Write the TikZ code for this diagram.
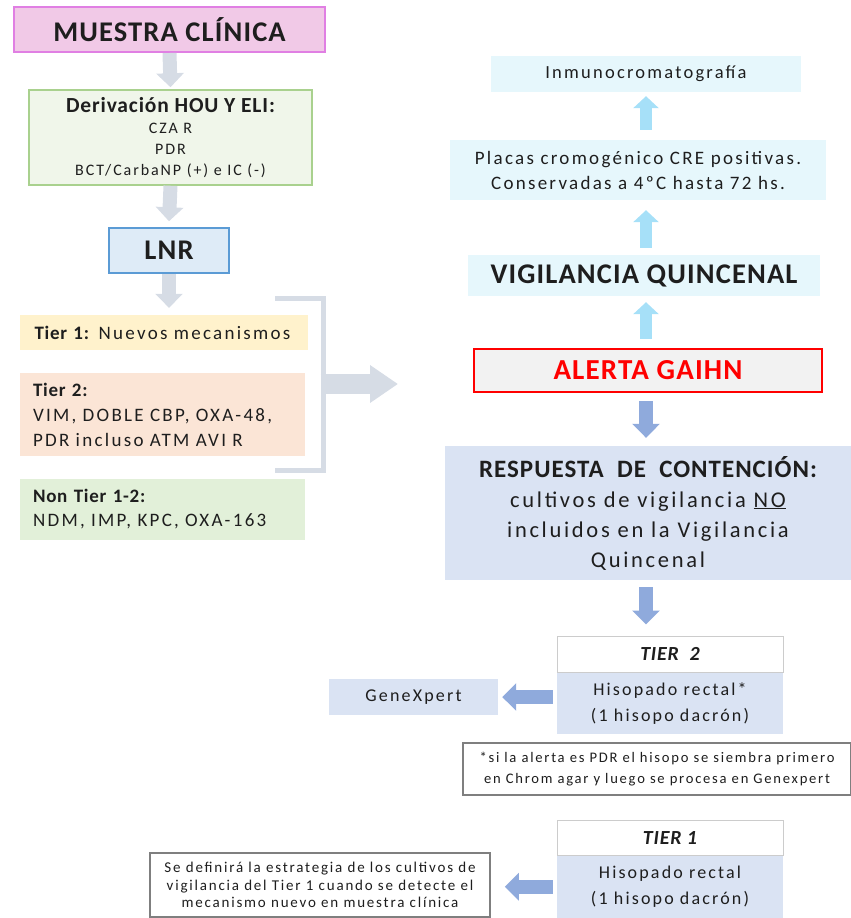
\documentclass[tikz,border=0pt]{standalone}
\usepackage{fontspec}
\setmainfont{Carlito}[LetterSpace=4]
\newfontfamily\spfont{Carlito}[LetterSpace=12]
\usetikzlibrary{arrows.meta}

\definecolor{pinkfill}{HTML}{F1C9E7}
\definecolor{pinkline}{HTML}{E07FE3}
\definecolor{greenfill}{HTML}{F0F6EA}
\definecolor{greenline}{HTML}{A9D18E}
\definecolor{lnrfill}{HTML}{DEEBF7}
\definecolor{lnrline}{HTML}{5B9BD5}
\definecolor{tieronefill}{HTML}{FFF2CC}
\definecolor{tiertwofill}{HTML}{FBE5D6}
\definecolor{nontierfill}{HTML}{E2F0D9}
\definecolor{grayarrow}{HTML}{D6DCE5}
\definecolor{cyanfill}{HTML}{E6F7FC}
\definecolor{cyanarrow}{HTML}{A6E0F8}
\definecolor{alertfill}{HTML}{F2F2F2}
\definecolor{bluefill}{HTML}{DAE3F3}
\definecolor{bluearrow}{HTML}{8FAADC}
\definecolor{notegray}{HTML}{7F7F7F}
\definecolor{txt}{HTML}{1E1E1E}

\tikzset{
  box/.style={inner sep=0pt, align=center, text=txt},
  tierbox/.style={box, align=left, text width=259pt, font=\spfont\fontsize{19}{24}\selectfont},
  fatarrow/.style={line width=14pt, -{Triangle[width=27pt,length=14pt]}},
  thinarrow/.style={line width=12pt, -{Triangle[width=25pt,length=12pt]}},
}
\newcommand{\tierhead}[1]{{\rmfamily\bfseries #1}}

\begin{document}
\begin{tikzpicture}[x=1pt, y=-1pt]
  \useasboundingbox (0,0) rectangle (851,918);

  % left column
  \node[box, fill=pinkfill, draw=pinkline, line width=2pt, minimum width=311pt, minimum height=45pt,
    font=\fontsize{28.5}{32}\selectfont\bfseries] (muestra) at (169.5,29.5) {MUESTRA CLÍNICA};
  \node[box, fill=greenfill, draw=greenline, line width=1.5pt, minimum width=283pt, minimum height=95pt,
    font=\spfont\fontsize{16}{21}\selectfont] (deriv) at (170.5,137.5)
    {{\rmfamily\fontsize{21.5}{22}\selectfont\bfseries Derivación HOU Y ELI:}\\CZA R\\PDR\\BCT/CarbaNP (+) e IC (-)};
  \node[box, fill=lnrfill, draw=lnrline, line width=1.5pt, minimum width=120pt, minimum height=45pt,
    font=\fontsize{28.5}{30}\selectfont\bfseries] (lnr) at (169,250.5) {LNR};

  \node[tierbox, fill=tieronefill, minimum width=288pt, minimum height=35pt] (tierone) at (164,332.5)
    {\tierhead{Tier 1:} Nuevos mecanismos};
  \node[tierbox, fill=tiertwofill, minimum width=285pt, minimum height=83pt, font=\spfont\fontsize{19}{25}\selectfont] (tiertwo) at (162.5,414.5)
    {\tierhead{Tier 2:}\\VIM, DOBLE CBP, OXA-48,\\PDR incluso ATM AVI R};
  \node[tierbox, fill=nontierfill, minimum width=285pt, minimum height=61pt] (nontier) at (162.5,509.5)
    {\tierhead{Non Tier 1-2:}\\NDM, IMP, KPC, OXA-163};

  \draw[fatarrow, grayarrow] (muestra.south) -- ([yshift=2pt]deriv.north);
  \draw[fatarrow, grayarrow] (deriv.south) -- ([yshift=6pt]lnr.north);
  \draw[fatarrow, grayarrow] (lnr.south) -- ([yshift=7pt]tierone.north -| lnr.south);

  % bracket
  \coordinate (brtop) at (275,298);
  \coordinate (brbot) at (275,470);
  \coordinate (brmid) at (323,384);
  \coordinate (brend) at (398,384);
  \draw[grayarrow, line width=5pt] (brtop) -| (brmid) |- (brbot);
  \draw[grayarrow, line width=20pt, -{Triangle[width=36pt,length=28pt]}] ([xshift=-2.5pt]brmid) -- (brend);

  % right column, upper part
  \node[box, fill=cyanfill, minimum width=310pt, minimum height=36pt,
    font=\spfont\fontsize{18.5}{22}\selectfont] (inmuno) at (646,74) {Inmunocromatografía};
  \node[box, fill=cyanfill, minimum width=376pt, minimum height=60pt,
    font=\spfont\fontsize{19}{25}\selectfont] (placas) at (638,170)
    {Placas cromogénico CRE positivas.\\Conservadas a 4ºC hasta 72 hs.};
  \node[box, fill=cyanfill, minimum width=352pt, minimum height=41pt,
    font=\fontsize{28.5}{32}\selectfont\bfseries] (vigila) at (644,275.5) {VIGILANCIA QUINCENAL};
  \node[box, fill=alertfill, draw=red, line width=2pt, minimum width=348pt, minimum height=43pt,
    font=\fontsize{29}{30}\selectfont\bfseries, text=red] (alerta) at (648,370.5) {ALERTA GAIHN};

  \draw[thinarrow, cyanarrow] ([yshift=10pt]placas.north -| inmuno.south) -- ([yshift=-4pt]inmuno.south);
  \draw[thinarrow, cyanarrow] ([yshift=7pt]vigila.north -| inmuno.south) -- ([yshift=-10pt]placas.south -| inmuno.south);
  \draw[thinarrow, cyanarrow] ([yshift=9pt]alerta.north -| inmuno.south) -- ([yshift=-6pt]vigila.south -| inmuno.south);

  % right column, lower part
  \node[box, fill=bluefill, minimum width=406pt, minimum height=134pt,
    font=\spfont\fontsize{22.5}{30}\selectfont] (respuesta) at (648,513)
    {{\rmfamily\fontsize{25}{30}\selectfont\bfseries RESPUESTA \ DE \ CONTENCIÓN:}\\cultivos de vigilancia \underline{NO}\\incluidos en la Vigilancia\\Quincenal};
  \draw[fatarrow, bluearrow] ([yshift=-8pt]alerta.south -| inmuno.south) -- ([yshift=8pt]respuesta.north -| inmuno.south);

  \node[box, fill=white, draw=black!20, line width=1pt, minimum width=226pt, minimum height=36pt,
    font=\fontsize{20}{22}\selectfont\bfseries\itshape] (tiertwohead) at (670,654) {TIER \ 2};
  \node[box, fill=bluefill, minimum width=226pt, minimum height=61pt, anchor=north,
    font=\spfont\fontsize{18}{26}\selectfont] (tiertwoswab) at (tiertwohead.south)
    {Hisopado rectal*\\(1 hisopo dacrón)};
  \draw[fatarrow, bluearrow] ([yshift=-7pt]respuesta.south -| inmuno.south) -- ([yshift=11pt]tiertwohead.north -| inmuno.south);

  \node[box, fill=bluefill, minimum width=169pt, minimum height=36pt,
    font=\spfont\fontsize{18}{20}\selectfont] (genexpert) at (413.5,697) {GeneXpert};
  \draw[fatarrow, bluearrow] ([xshift=-4pt]tiertwoswab.west |- genexpert) -- ([xshift=4pt]genexpert.east);

  \node[box, fill=white, draw=notegray, line width=1.5pt, minimum width=388pt, minimum height=52pt,
    font=\spfont\fontsize{14.6}{21}\selectfont] (notetwo) at (657,769)
    {*si la alerta es PDR el hisopo se siembra primero\\en Chrom agar y luego se procesa en Genexpert};

  \node[box, fill=white, draw=black!20, line width=1pt, minimum width=226pt, minimum height=35pt,
    font=\fontsize{20}{22}\selectfont\bfseries\itshape] (tieronehead) at (670,837.5) {TIER 1};
  \node[box, fill=bluefill, minimum width=226pt, minimum height=62pt, anchor=north,
    font=\spfont\fontsize{18}{26}\selectfont] (tieroneswab) at (tieronehead.south)
    {Hisopado rectal\\(1 hisopo dacrón)};

  \node[box, fill=white, draw=notegray, line width=1.5pt, minimum width=340pt, minimum height=64pt,
    font=\spfont\fontsize{15}{17.5}\selectfont] (noteone) at (320,885)
    {Se definirá la estrategia de los cultivos de\\vigilancia del Tier 1 cuando se detecte el\\mecanismo nuevo en muestra clínica};
  \draw[fatarrow, bluearrow] ([xshift=-4pt]tieroneswab.west) -- ([xshift=14pt]noteone.east |- tieroneswab.west);

\end{tikzpicture}
\end{document}
